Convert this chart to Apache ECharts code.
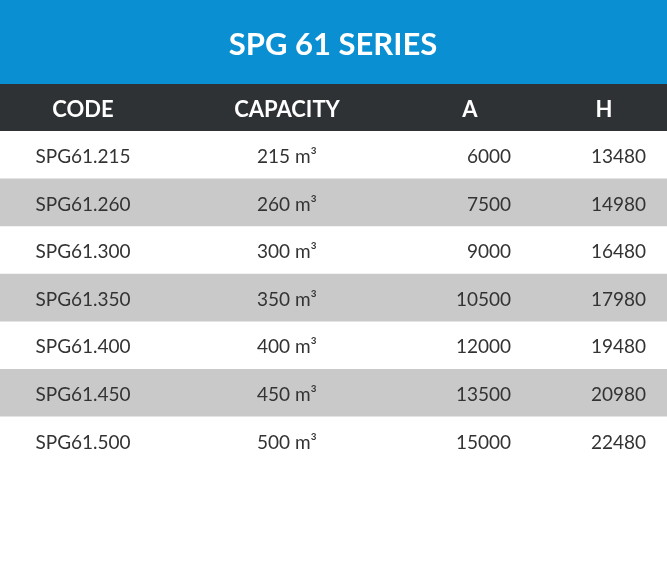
<!DOCTYPE html>
<html>
<head>
<meta charset="utf-8">
<script src="https://cdn.jsdelivr.net/npm/echarts@6/dist/echarts.min.js"></script>
<style>html,body{margin:0;padding:0;background:#fff}#main{width:667px;height:572px}</style>
</head>
<body>
<div id="main"></div>
<script>
var title = 'SPG 61 SERIES'
var headers = ['CODE', 'CAPACITY', 'A', 'H']
var codes = ['SPG61.215', 'SPG61.260', 'SPG61.300', 'SPG61.350', 'SPG61.400', 'SPG61.450', 'SPG61.500']
var capacities = [215, 260, 300, 350, 400, 450, 500]
var valuesA = [6000, 7500, 9000, 10500, 12000, 13500, 15000]
var valuesH = [13480, 14980, 16480, 17980, 19480, 20980, 22480]

var font = 'Lato, "Noto Sans", sans-serif'
var rowTop = 131, rowH = 47.6
var els = []
els.push({ type: 'rect', shape: { x: 0, y: 0, width: 667, height: 84 }, style: { fill: '#0a90d2' } })
els.push({ type: 'text', x: 333, y: 45, style: { text: title, fill: '#fff', font: 'bold 31px ' + font, align: 'center', verticalAlign: 'middle' } })
els.push({ type: 'rect', shape: { x: 0, y: 84, width: 667, height: 47 }, style: { fill: '#2f3235' } })
var hx = [83, 287, 470, 604]
headers.forEach(function (h, i) {
    els.push({ type: 'text', x: hx[i], y: 110, style: { text: h, fill: '#fff', font: 'bold 22px ' + font, align: 'center', verticalAlign: 'middle' } })
})
codes.forEach(function (c, i) {
    var y = rowTop + i * rowH
    if (i % 2 == 1) els.push({ type: 'rect', shape: { x: 0, y: y, width: 667, height: rowH }, style: { fill: '#c9c9c9' } })
    var cy = y + rowH / 2 + 2
    var st = { fill: '#333', font: '19px ' + font, verticalAlign: 'middle' }
    els.push({ type: 'text', x: 83, y: cy, style: Object.assign({ text: c, align: 'center' }, st) })
    els.push({ type: 'text', x: 287, y: cy, style: Object.assign({ text: capacities[i] + ' m³', align: 'center' }, st) })
    els.push({ type: 'text', x: 511, y: cy, style: Object.assign({ text: String(valuesA[i]), align: 'right' }, st) })
    els.push({ type: 'text', x: 646, y: cy, style: Object.assign({ text: String(valuesH[i]), align: 'right' }, st) })
})

var myChart = echarts.init(document.getElementById('main'))
myChart.setOption({ animation: false, graphic: { elements: els } })
</script>
</body>
</html>
